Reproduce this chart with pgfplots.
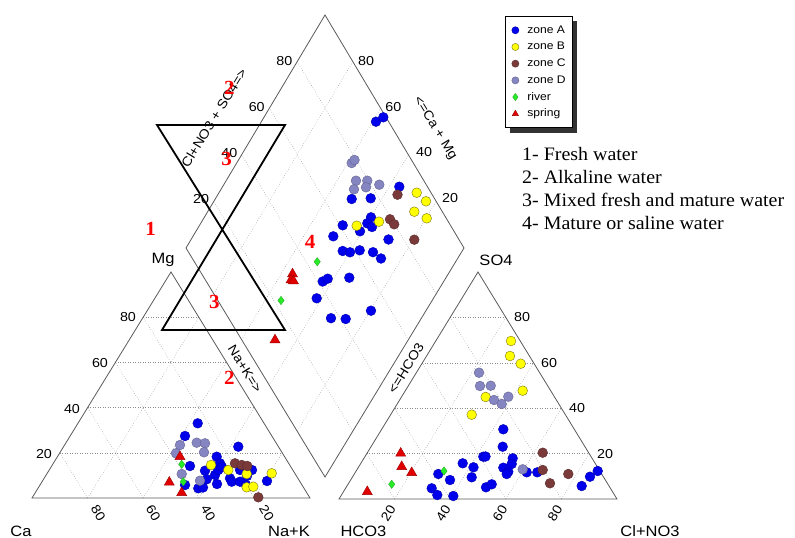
\documentclass[border=0pt]{standalone}
\usepackage{pgfplots}
\pgfplotsset{compat=1.18}
\usepackage{fontspec}
\setmainfont{Liberation Serif}
\newfontfamily\labfont[FakeStretch=1.1]{Liberation Sans}
\newfontfamily\notefont[FakeStretch=1.05]{Liberation Serif}
\usetikzlibrary{calc,shadows}

\definecolor{zoneA}{RGB}{0,0,235}
\definecolor{zoneB}{RGB}{255,255,0}
\definecolor{zoneC}{RGB}{122,58,58}
\definecolor{zoneD}{RGB}{133,133,194}
\definecolor{river}{RGB}{40,235,40}
\definecolor{spring}{RGB}{225,0,0}

\begin{document}
\begin{tikzpicture}[
  gridline/.style={draw=black!45, dotted, line width=0.5pt},
  frame/.style={draw=black!65, line width=0.8pt},
  tick/.style={font=\labfont\fontsize{13}{13}\selectfont, inner sep=0pt},
  corner/.style={font=\labfont\fontsize{15}{15}\selectfont, inner sep=0pt},
  title/.style={font=\labfont\fontsize{13}{13}\selectfont, inner sep=0pt},
  rednum/.style={font=\notefont\fontsize{20}{20}\selectfont\bfseries, text=red, inner sep=0pt},
  note/.style={font=\notefont\fontsize{19}{19}\selectfont, anchor=base west, inner sep=0pt},
]
\begin{axis}[
  x=1pt, y=1pt, y dir=reverse,
  xmin=0, xmax=795, ymin=0, ymax=538,
  hide axis, clip=false,
  legend cell align=left,
  legend image post style={mark size=3.6pt},
  legend style={at={(0.6352,0.9703)}, anchor=north west,
    draw=black, line width=0.6pt, fill=white,
    font=\labfont\fontsize{11}{11}\selectfont,
    drop shadow={shadow xshift=5pt, shadow yshift=-5pt, fill=black!80, opacity=1},
    inner xsep=6.5pt, inner ysep=9pt, row sep=6.7pt,
    nodes={inner sep=0pt, text height=8pt, text depth=2pt},
    /tikz/every odd column/.style={column sep=8.4pt}},
]
% page frame
\addplot[draw=none, forget plot] coordinates {(0,0) (795,538)};

% corners of the three panels
\coordinate (LA) at (axis cs:32,498);
\coordinate (LB) at (axis cs:310,498);
\coordinate (LC) at (axis cs:171,272);
\coordinate (RA) at (axis cs:339,499);
\coordinate (RB) at (axis cs:617,499);
\coordinate (RC) at (axis cs:478,272);
\coordinate (DB) at (axis cs:325,477);
\coordinate (DL) at (axis cs:186,248);
\coordinate (DR) at (axis cs:464,248);
\coordinate (DT) at (axis cs:325,15);

% grid
\pgfplotsinvokeforeach{0.2,0.4,0.6,0.8}{
  \draw[gridline] ($(LA)!#1!(LC)$) -- ($(LB)!#1!(LC)$);
  \draw[gridline] ($(LA)!#1!(LB)$) -- ($(LC)!#1!(LB)$);
  \draw[gridline] ($(LB)!#1!(LA)$) -- ($(LC)!#1!(LA)$);
  \draw[gridline] ($(RA)!#1!(RC)$) -- ($(RB)!#1!(RC)$);
  \draw[gridline] ($(RA)!#1!(RB)$) -- ($(RC)!#1!(RB)$);
  \draw[gridline] ($(RB)!#1!(RA)$) -- ($(RC)!#1!(RA)$);
  \draw[gridline] ($(DB)!#1!(DR)$) -- ($(DL)!#1!(DT)$);
  \draw[gridline] ($(DB)!#1!(DL)$) -- ($(DR)!#1!(DT)$);
}
\draw[frame] (LA) -- (LB) -- (LC) -- cycle;
\draw[frame] (RA) -- (RB) -- (RC) -- cycle;
\draw[frame] (DB) -- (DR) -- (DT) -- (DL) -- cycle;

% samples
\addplot[only marks, mark=*, mark size=4.9pt,
  mark options={fill=zoneA, draw=zoneA!75!black, line width=0.4pt}] coordinates {
  (197.7,423.3) (185,436) (238.3,446.7) (190,466) (216.7,456.7) (220,463.3)
  (205,470.7) (215,475) (218.3,470) (222,467) (230,478.3) (240,470) (252,470)
  (206.7,479.3) (217,484) (198.3,488.3) (203,487.5) (185,485) (231.7,481.7)
  (240,481.7) (246,485) (267,481) (247,476)
  (376,121.7) (383.3,117.3) (399.3,186.7) (351.7,199) (370.7,198.3) (371,217.3)
  (367.3,223.3) (372,227) (360,231.3) (342.7,225.3) (333.3,236.3) (388.5,239.5)
  (342.7,251) (350,252.3) (359.7,250.3) (373,252.2) (381,258.5) (322.7,281.5)
  (327.7,278.7) (349.3,277.7) (316.7,298.3) (371,310.7) (331,318.2) (345.7,319)
  (503.3,429.3) (502.7,446.7) (483.3,456.7) (485.5,456.5) (512.7,458.3)
  (511.7,464) (462.7,463.3) (473.5,467.3) (503.3,467.7) (508.3,471.7)
  (506.7,474) (526.7,472.3) (537.3,472.3) (438.3,474) (450,480) (471.7,477.3)
  (431.7,488.3) (437.3,495) (453.3,496) (486,487.3) (491.7,484.3) (590,476.7)
  (597.7,471) (581.7,486)
};
\addlegendentry{zone A}
\addplot[only marks, mark=*, mark size=4.9pt,
  mark options={fill=zoneB, draw=olive!80!black, line width=0.4pt}] coordinates {
  (211,465) (228.3,470) (246.7,474) (271.7,473.3) (246.7,487.3) (253.3,486.7)
  (416.7,192.7) (426,201.3) (414.3,211.7) (426.7,218.3) (356.7,225.7) (379,221.7)
  (511,341) (510,356) (520.7,363.7) (522.7,390.7) (485.7,397) (471.7,414.7)
};
\addlegendentry{zone B}
\addplot[only marks, mark=*, mark size=4.9pt,
  mark options={fill=zoneC, draw=zoneC!75!black, line width=0.4pt}] coordinates {
  (235,463.3) (241.7,465) (247.3,466) (258.3,497.3)
  (397.5,194.7) (390,219.3) (394.2,224.3) (414.3,239.7)
  (542.7,452.7) (542.7,470) (568.3,474) (550,483.3)
};
\addlegendentry{zone C}
\addplot[only marks, mark=*, mark size=4.9pt,
  mark options={fill=zoneD, draw=zoneD!75!black, line width=0.4pt}] coordinates {
  (180,445) (196.7,442.7) (205,443.3) (176,453.3) (204,452.3) (181.7,474)
  (200,480.7)
  (351.7,163) (354.5,160) (356,180.7) (367.3,180.7) (379.3,184.7) (366,187.3)
  (354,189.3)
  (479,372.7) (480,386) (490.7,385.7) (494,400) (501.7,404) (508.3,396.7)
  (522.7,469.3)
};
\addlegendentry{zone D}
\addplot[only marks, mark=diamond*, mark size=4.2pt,
  mark options={fill=river, draw=river!70!black, line width=0.3pt}] coordinates {
  (181.7,464.3) (183.3,481.7)
  (317.2,261.7) (281,300.5)
  (444,471) (391.7,484.3)
};
\addlegendentry{river}
\addplot[only marks, mark=triangle*, mark size=5.8pt,
  mark options={fill=spring, draw=spring!70!black, line width=0.4pt}] coordinates {
  (180,456.7) (169.3,482.3) (181.7,492.7)
  (292.5,274) (291,280) (293.5,281) (275,340)
  (400.7,453.3) (401.7,466.7) (411.7,472.7) (367.3,491.7)
};
\addlegendentry{spring}

% hourglass of the water types
\draw[black, line width=1.8pt] (axis cs:157,125) -- (axis cs:285,125)
  -- (axis cs:162,330) -- (axis cs:285,330) -- cycle;

% tick labels
\node[tick] at (axis cs:128,317) {80};
\node[tick] at (axis cs:100,363) {60};
\node[tick] at (axis cs:72,409) {40};
\node[tick] at (axis cs:44,454) {20};
\node[tick, rotate=-58.4] at (axis cs:98.3,513.3) {80};
\node[tick, rotate=-58.4] at (axis cs:153.3,513.3) {60};
\node[tick, rotate=-58.4] at (axis cs:208.3,513.3) {40};
\node[tick, rotate=-58.4] at (axis cs:266.7,513.3) {20};
\node[tick] at (axis cs:522,317) {80};
\node[tick] at (axis cs:549,363) {60};
\node[tick] at (axis cs:577,408) {40};
\node[tick] at (axis cs:605,454) {20};
\node[tick, rotate=58.4] at (axis cs:388.3,513.3) {20};
\node[tick, rotate=58.4] at (axis cs:443.3,513.3) {40};
\node[tick, rotate=58.4] at (axis cs:500,513.3) {60};
\node[tick, rotate=58.4] at (axis cs:555,513.3) {80};
\node[tick] at (axis cs:284.3,60.7) {80};
\node[tick] at (axis cs:256.7,106.7) {60};
\node[tick] at (axis cs:229.3,152.7) {40};
\node[tick] at (axis cs:201,199) {20};
\node[tick] at (axis cs:366,60.7) {80};
\node[tick] at (axis cs:393.3,106.7) {60};
\node[tick] at (axis cs:424,152) {40};
\node[tick] at (axis cs:450,198) {20};

% corner and side names
\node[corner] at (axis cs:163,260) {Mg};
\node[corner] at (axis cs:21,531) {Ca};
\node[corner] at (axis cs:289,531) {Na+K};
\node[corner] at (axis cs:496,260) {SO4};
\node[corner] at (axis cs:363.5,531) {HCO3};
\node[corner] at (axis cs:650,531) {Cl+NO3};
\node[title, rotate=58.4] at (axis cs:214,118) {Cl+NO3 + SO4=>};
\node[title, rotate=-58.4] at (axis cs:435,128) {<=Ca + Mg};
\node[title, rotate=-58.4] at (axis cs:245,369) {Na+K=>};
\node[title, rotate=58.4] at (axis cs:406,368) {<=HCO3};

% water type numbers
\node[rednum] at (axis cs:150.7,229.3) {1};
\node[rednum] at (axis cs:229.3,88.3) {2};
\node[rednum] at (axis cs:226.7,159.3) {3};
\node[rednum] at (axis cs:310,241.7) {4};
\node[rednum] at (axis cs:214.3,301.7) {3};
\node[rednum] at (axis cs:229.3,378.3) {2};

% key to the numbers
\node[note] at (axis cs:522,160) {1- Fresh water};
\node[note] at (axis cs:522,183) {2- Alkaline water};
\node[note] at (axis cs:522,206.5) {3- Mixed fresh and mature water};
\node[note] at (axis cs:522,229.5) {4- Mature or saline water};
\end{axis}
\end{tikzpicture}
\end{document}
